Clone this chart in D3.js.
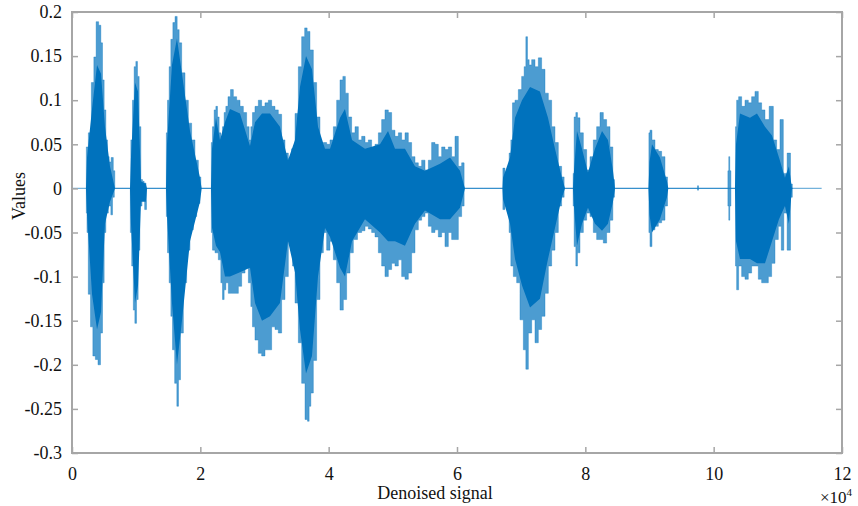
<!DOCTYPE html>
<html>
<head>
<meta charset="utf-8">
<script src="https://cdn.jsdelivr.net/npm/d3@7/dist/d3.min.js"></script>
<style>
  html, body { margin: 0; padding: 0; background: #fff; }
  svg { display: block; font-family: "Liberation Serif", "Times New Roman", serif; }
</style>
</head>
<body>
<svg id="chart" width="858" height="506"></svg>
<script>
// envelope of the denoised signal (sample index, value)
const topX = [2180, 2290, 2810, 3230, 3580, 3940, 4360, 4630, 4880, 5140, 5410, 5660, 5920, 6280, 6590, 6750,
  9040, 9300, 9550, 9820, 10080, 10330, 10600, 10860, 11110, 11380, 11690,
  14650, 14760, 15010, 15270, 15540, 15900, 16210, 16570, 16830, 17350, 17870, 18390, 18900, 19430, 19950, 20210,
  21660, 21770, 22020, 22290, 22550, 22800, 23060, 23330, 23580, 23840, 24110, 24510, 24890, 25400, 25920, 26450,
  26960, 27470, 27740, 28000, 28250, 28780, 29300, 29810, 30340, 30860, 31370, 31900, 32410, 32930, 33460, 33970,
  34490, 35020, 35530, 36050, 36470, 36820, 37350, 37870, 38380, 38910, 39430, 39940, 40470, 40990, 41500, 42030,
  42390, 42810, 43320, 43840, 44370, 44880, 45400, 45930, 46440, 46950, 47490, 48000, 48510, 49040, 49560, 50070,
  50600, 51120, 51630, 52160, 52670, 53190, 53720, 54230, 54750, 55280, 55790, 56300, 56830, 57350, 57860, 58390,
  58910, 59420, 59950, 60470, 60980, 61240,
  67090, 67210, 67740, 67990, 68260, 68520, 68770, 69300, 69820, 70330, 70600, 70860, 71110, 71380, 71890, 72420,
  72930, 73450, 73980, 74490, 75010, 75530, 76050, 76560, 76830,
  78080, 78120, 78390, 78650, 78900, 79430, 79950, 80460, 80990, 81500, 82020, 82550, 83060, 83580, 84110, 84460, 84620,
  89840, 89970, 90180, 90590, 91120, 91630, 92150, 92680, 92930,
  97400, 97560, 97720,
  102150, 102280, 102430, 102590, 102780,
  103320, 103480, 103680, 104100, 104620, 105140, 105660, 106170, 106700, 107220, 107730, 108260, 109040, 109560,
  110070, 110600, 111110, 111790, 112160, 112360];
const topV = [0, 0.047, 0.063, 0.12, 0.149, 0.189, 0.185, 0.165, 0.123, 0.089, 0.055, 0.036, 0.03, 0.035, 0.02, 0,
  0, 0.055, 0.1, 0.138, 0.144, 0.127, 0.07, 0.01, 0.008, 0.006, 0,
  0, 0.063, 0.1, 0.138, 0.169, 0.188, 0.195, 0.18, 0.165, 0.131, 0.1, 0.074, 0.055, 0.032, 0.013, 0,
  0, 0.052, 0.07, 0.089, 0.093, 0.081, 0.063, 0.055, 0.07, 0.086, 0.093, 0.104, 0.112, 0.104, 0.1, 0.093,
  0.086, 0.07, 0.055, 0.07, 0.086, 0.093, 0.1, 0.093, 0.097, 0.1, 0.093, 0.089, 0.084, 0.055, 0.04, 0.034,
  0.045, 0.085, 0.138, 0.172, 0.182, 0.178, 0.157, 0.12, 0.081, 0.044, 0.052, 0.05, 0.055, 0.07, 0.1, 0.123,
  0.127, 0.108, 0.081, 0.063, 0.07, 0.055, 0.059, 0.052, 0.055, 0.044, 0.05, 0.063, 0.078, 0.089, 0.086, 0.066,
  0.059, 0.063, 0.055, 0.063, 0.052, 0.036, 0.029, 0.025, 0.032, 0.021, 0.032, 0.052, 0.05, 0.036, 0.047, 0.044,
  0.047, 0.036, 0.059, 0.025, 0.029, 0,
  0, 0.023, 0.015, 0.01, 0.04, 0.055, 0.097, 0.1, 0.112, 0.127, 0.138, 0.172, 0.146, 0.14, 0.146, 0.138,
  0.148, 0.135, 0.108, 0.1, 0.07, 0.052, 0.025, 0.013, 0,
  0, 0.017, 0.081, 0.086, 0.08, 0.063, 0.044, 0.021, 0.036, 0.055, 0.07, 0.086, 0.078, 0.07, 0.047, 0.01, 0,
  0, 0.063, 0.066, 0.055, 0.044, 0.042, 0.036, 0.013, 0,
  0, 0.003, 0,
  0, 0.02, 0.036, 0.02, 0,
  0, 0.07, 0.1, 0.104, 0.093, 0.1, 0.097, 0.104, 0.11, 0.097, 0.089, 0.078, 0.093, 0.055,
  0.044, 0.078, 0.017, 0.04, 0.005, 0];

const botX = [2180, 2290, 2380, 2700, 3070, 3430, 3850, 4250, 4630, 4880, 5140, 5410, 5920, 6190, 6440, 6750,
  9040, 9150, 9460, 9660, 9930, 10180, 10440, 10710, 11110, 11530, 11690,
  14650, 14760, 15010, 15270, 15540, 15790, 16210, 16470, 16720, 17100, 17610, 18120, 18650, 19170, 19680, 20210,
  21660, 21770, 22020, 22550, 23060, 23330, 23580, 23840, 24110, 24620, 25140, 25670, 26180, 26700, 27230, 27740,
  28000, 28250, 28780, 29300, 29810, 30340, 30860, 31370, 31900, 32410, 32930, 33460, 33970, 34240, 34490, 35020,
  35530, 36050, 36580, 36820, 37090, 37350, 37870, 38380, 38910, 39430, 39940, 40470, 40990, 41500, 42030, 42540,
  43060, 43590, 44100, 44880, 45400, 45930, 46440, 46950, 47490, 48000, 48510, 49040, 49560, 50070, 50600, 51120,
  51630, 52160, 52670, 53190, 53720, 54230, 54750, 55280, 55790, 56300, 56830, 57350, 57860, 58390, 58910, 59420,
  59950, 60470, 60980, 61240,
  67090, 67210, 67740, 67990, 68260, 68520, 69040, 69550, 70080, 70600, 70860, 71380, 71890, 72420, 72930, 73450,
  73980, 74490, 75010, 75530, 76050, 76560, 76830,
  78080, 78120, 78390, 78650, 78900, 79430, 79950, 80460, 80990, 81500, 82020, 82550, 83060, 83580, 84110, 84460, 84620,
  89840, 89970, 90180, 90590, 91120, 91630, 92150, 92680, 92930,
  97400, 97560, 97720,
  102150, 102280, 102430, 102590, 102780,
  103320, 103480, 103680, 104100, 104620, 105140, 105660, 106170, 106700, 107220, 107730, 108260, 108780, 109290,
  109820, 110330, 110750, 111110, 111790, 112160, 112360];
const botV = [0, -0.028, -0.05, -0.12, -0.157, -0.19, -0.194, -0.2, -0.164, -0.107, -0.05, -0.028, -0.02, -0.03, -0.01, 0,
  0, -0.05, -0.088, -0.138, -0.153, -0.126, -0.07, -0.02, -0.01, -0.024, 0,
  0, -0.032, -0.073, -0.107, -0.145, -0.183, -0.221, -0.247, -0.217, -0.164, -0.107, -0.07, -0.047, -0.032, -0.017, 0,
  0, -0.05, -0.07, -0.073, -0.081, -0.107, -0.126, -0.115, -0.107, -0.119, -0.119, -0.119, -0.111, -0.096, -0.088, -0.107,
  -0.134, -0.157, -0.172, -0.187, -0.19, -0.183, -0.183, -0.157, -0.16, -0.164, -0.126, -0.1, -0.058, -0.043, -0.088, -0.13,
  -0.175, -0.221, -0.262, -0.264, -0.247, -0.232, -0.195, -0.126, -0.073, -0.05, -0.07, -0.06, -0.081, -0.107, -0.138, -0.126,
  -0.096, -0.073, -0.058, -0.05, -0.048, -0.043, -0.046, -0.05, -0.055, -0.073, -0.088, -0.1, -0.092, -0.085, -0.088, -0.081,
  -0.1, -0.103, -0.096, -0.073, -0.047, -0.036, -0.032, -0.028, -0.043, -0.05, -0.047, -0.055, -0.05, -0.066, -0.05, -0.058,
  -0.058, -0.032, -0.02, 0,
  0, -0.024, -0.015, -0.01, -0.05, -0.088, -0.1, -0.107, -0.149, -0.183, -0.205, -0.164, -0.149, -0.175, -0.16, -0.145,
  -0.119, -0.088, -0.07, -0.05, -0.02, -0.01, 0,
  0, -0.02, -0.066, -0.088, -0.073, -0.05, -0.036, -0.028, -0.032, -0.05, -0.058, -0.058, -0.062, -0.05, -0.036, -0.01, 0,
  0, -0.05, -0.066, -0.047, -0.043, -0.039, -0.036, -0.02, 0,
  0, -0.002, 0,
  0, -0.02, -0.036, -0.02, 0,
  0, -0.088, -0.115, -0.088, -0.1, -0.103, -0.096, -0.088, -0.088, -0.103, -0.107, -0.107, -0.1, -0.085,
  -0.058, -0.043, -0.07, -0.028, -0.07, -0.01, 0];

// dense (dark) core of the waveform
const coreX = [2180, 2340, 3120, 3900, 4520, 5140, 5920, 6700,
  9040, 9190, 9820, 10290, 10750, 11500, 11690,
  14650, 14800, 15580, 16360, 17140, 18390, 19950, 20210,
  21660, 21820, 22440, 23060, 23840, 24620, 26180, 27740, 28520, 29610, 30860, 32410, 33660, 34750, 35530, 36470,
  37400, 38340, 39430, 40210, 41770, 42540, 43640, 45660, 48000, 49250, 50340, 51890, 53450, 55010, 57350, 58910,
  60470, 61240,
  67090, 67170, 68260, 69040, 70130, 71380, 72930, 74180, 75270, 76360, 76830,
  78080, 78230, 78700, 79480, 80410, 81500, 82600, 83530, 84310, 84620,
  89840, 90000, 90390, 91630, 92720, 92930,
  103320, 103480, 104100, 105660, 106750, 108000, 109090, 110180, 111110, 111730, 112200];
const coreTop = [0, 0.035, 0.09, 0.14, 0.13, 0.07, 0.025, 0,
  0, 0.035, 0.12, 0.11, 0.008, 0.005, 0,
  0, 0.05, 0.14, 0.17, 0.13, 0.065, 0.012, 0,
  0, 0.045, 0.08, 0.055, 0.075, 0.09, 0.085, 0.048, 0.075, 0.085, 0.085, 0.07, 0.032, 0.055, 0.115, 0.15,
  0.135, 0.07, 0.045, 0.045, 0.08, 0.09, 0.055, 0.045, 0.05, 0.065, 0.045, 0.045, 0.025, 0.02, 0.028, 0.035,
  0.02, 0,
  0, 0.012, 0.035, 0.08, 0.1, 0.115, 0.11, 0.08, 0.045, 0.012, 0,
  0, 0.02, 0.065, 0.045, 0.018, 0.045, 0.065, 0.055, 0.02, 0,
  0, 0.03, 0.05, 0.035, 0.008, 0,
  0, 0.05, 0.085, 0.08, 0.085, 0.07, 0.06, 0.035, 0.012, 0.025, 0];
const coreBot = [0, -0.03, -0.12, -0.16, -0.14, -0.04, -0.015, 0,
  0, -0.04, -0.13, -0.11, -0.015, -0.015, 0,
  0, -0.03, -0.13, -0.2, -0.15, -0.06, -0.015, 0,
  0, -0.045, -0.065, -0.072, -0.1, -0.1, -0.095, -0.09, -0.13, -0.15, -0.145, -0.13, -0.06, -0.095, -0.16, -0.21,
  -0.19, -0.1, -0.045, -0.055, -0.09, -0.1, -0.06, -0.035, -0.05, -0.06, -0.06, -0.065, -0.04, -0.025, -0.035, -0.035,
  -0.022, 0,
  0, -0.012, -0.04, -0.08, -0.11, -0.135, -0.125, -0.08, -0.045, -0.01, 0,
  0, -0.02, -0.065, -0.04, -0.022, -0.04, -0.048, -0.04, -0.015, 0,
  0, -0.03, -0.05, -0.035, -0.01, 0,
  0, -0.06, -0.08, -0.08, -0.085, -0.085, -0.06, -0.035, -0.02, -0.04, 0];

const signalLength = 116830;
const xTicks = [0, 20000, 40000, 60000, 80000, 100000, 120000];
const yTicks = [-0.3, -0.25, -0.2, -0.15, -0.1, -0.05, 0, 0.05, 0.1, 0.15, 0.2];

const svg = d3.select('#chart');
const margin = { left: 72, right: 16, top: 12, bottom: 53 };
const W = 858, H = 506;

const x = d3.scaleLinear().domain([0, 120000]).range([margin.left, W - margin.right]);
const y = d3.scaleLinear().domain([-0.3, 0.2]).range([H - margin.bottom, margin.top]);

const blue = '#0072BD';

// slight softening, the strokes in the original are anti-aliased
svg.append('defs').append('filter').attr('id', 'soft')
  .append('feGaussianBlur').attr('stdDeviation', 0.6);

const plot = svg.append('g');

// zero line through the silent parts
plot.append('line')
  .attr('x1', x(0)).attr('x2', x(signalLength))
  .attr('y1', y(0)).attr('y2', y(0))
  .attr('stroke', blue).attr('stroke-opacity', 0.55).attr('stroke-width', 1.3);

// outer peaks (sparser strokes -> lighter); stepped edge looks like the stroke comb
const outline = topX.map((d, i) => [d, topV[i]])
  .concat(botX.map((d, i) => [d, botV[i]]).reverse());
const line = d3.line().x(d => x(d[0])).y(d => y(d[1])).curve(d3.curveStep);
plot.append('path')
  .attr('d', line(outline) + 'Z')
  .attr('fill', blue).attr('fill-opacity', 0.7)
  .attr('stroke', blue).attr('stroke-opacity', 0.35).attr('stroke-width', 1);

// dense core
const core = coreX.map((d, i) => ({ s: d, hi: coreTop[i], lo: coreBot[i] }));
plot.append('path')
  .attr('d', d3.area().x(d => x(d.s)).y0(d => y(d.lo)).y1(d => y(d.hi))(core))
  .attr('fill', blue)
  .attr('filter', 'url(#soft)');

// axes, MATLAB style: box with inward ticks on all sides
const fmtY = d => String(+d.toFixed(2));
const fmtX = d => String(d / 1e4);
const axisColor = '#a6a6a6';

const gl = svg.append('g').attr('transform', `translate(${margin.left},0)`)
  .call(d3.axisLeft(y).tickValues(yTicks).tickFormat(fmtY).tickSizeInner(-6).tickSizeOuter(0).tickPadding(10));
const gr = svg.append('g').attr('transform', `translate(${W - margin.right},0)`)
  .call(d3.axisRight(y).tickValues(yTicks).tickFormat('').tickSizeInner(-6).tickSizeOuter(0));
const gb = svg.append('g').attr('transform', `translate(0,${H - margin.bottom})`)
  .call(d3.axisBottom(x).tickValues(xTicks).tickFormat(fmtX).tickSizeInner(-6).tickSizeOuter(0).tickPadding(14));
const gt = svg.append('g').attr('transform', `translate(0,${margin.top})`)
  .call(d3.axisTop(x).tickValues(xTicks).tickFormat('').tickSizeInner(-6).tickSizeOuter(0));

[gl, gr, gb, gt].forEach(g => {
  g.attr('font-family', '"Liberation Serif", "Times New Roman", serif');
  g.select('.domain').remove();
  g.selectAll('.tick line').attr('stroke', axisColor).attr('stroke-width', 1.5);
  g.selectAll('text').attr('fill', '#111').attr('font-size', 18);
});

svg.append('rect')
  .attr('x', margin.left).attr('y', margin.top)
  .attr('width', W - margin.right - margin.left)
  .attr('height', H - margin.bottom - margin.top)
  .attr('fill', 'none').attr('stroke', axisColor).attr('stroke-width', 2);

// labels
svg.append('text')
  .attr('x', 435).attr('y', 499)
  .attr('text-anchor', 'middle').attr('font-size', 18).attr('fill', '#111')
  .text('Denoised signal');

svg.append('text')
  .attr('transform', 'translate(25,196) rotate(-90)')
  .attr('text-anchor', 'middle').attr('font-size', 18).attr('fill', '#111')
  .text('Values');

const expo = svg.append('text')
  .attr('x', 820).attr('y', 503).attr('font-size', 17).attr('fill', '#111');
expo.append('tspan').text('\u00d710');
expo.append('tspan').attr('font-size', 11).attr('dy', -7).text('4');
</script>
</body>
</html>
